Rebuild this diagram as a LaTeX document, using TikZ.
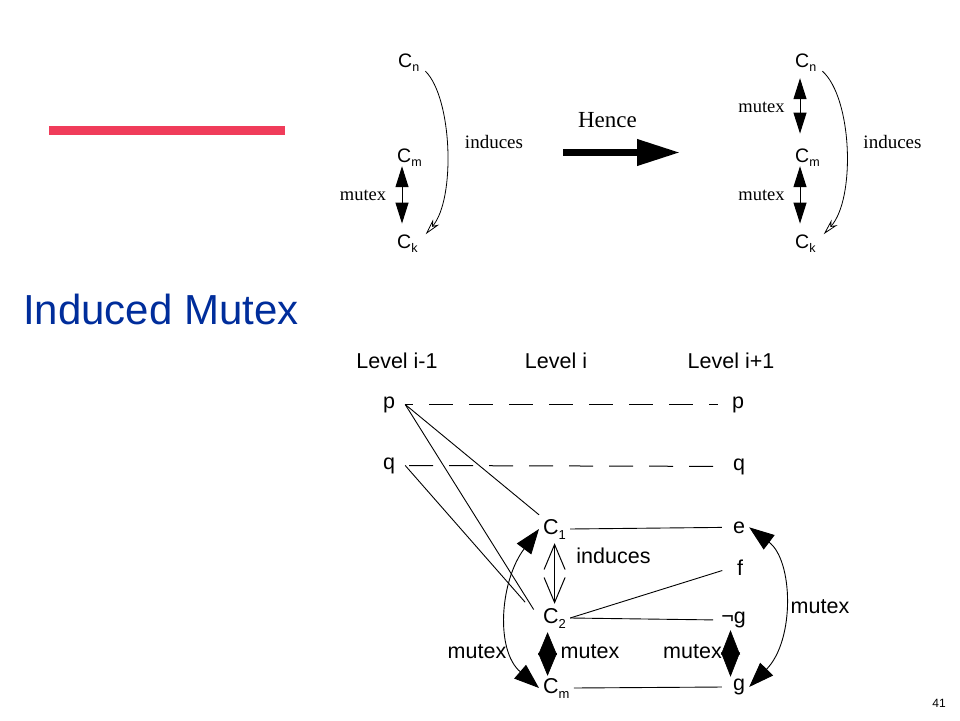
\documentclass[tikz,border=0pt]{standalone}
\usepackage{fontspec}
\setmainfont{Liberation Serif}
\setsansfont{Liberation Sans}
\usepackage{tikz}
\usetikzlibrary{arrows.meta,calc}
\definecolor{titleblue}{RGB}{0,45,155}
\definecolor{barred}{RGB}{240,60,90}
\newcommand{\tsub}[1]{\raisebox{-4pt}{\fontsize{12.5}{12.5}\selectfont #1}}
\newcommand{\bsub}[1]{\raisebox{-5pt}{\fontsize{13}{13}\selectfont #1}}

\begin{document}
\begin{tikzpicture}[x=1pt,y=-1pt,
		ctop/.style={font=\sffamily\fontsize{19.5}{19.5}\selectfont,inner sep=0pt,anchor=base west},
		tlabel/.style={font=\rmfamily\fontsize{#1}{#1}\selectfont,inner sep=0pt,anchor=base},
		atom/.style={font=\sffamily\fontsize{21.5}{21.5}\selectfont,inner sep=4pt,anchor=base},
		cnode/.style={atom,anchor=base west},
		link/.style={line width=0.9pt},
		dashline/.style={line width=1pt,dash pattern=on 24pt off 16pt},
		topmutex/.style={line width=1pt,{Triangle[length=21pt,width=13pt]}-{Triangle[length=21pt,width=13pt]}},
		topinduce/.style={line width=0.8pt,-{Stealth[open,length=16pt,width=8pt,inset=5pt]}},
		inducearr/.style={line width=1pt,{Straight Barb[length=25pt,width=21pt]}-{Straight Barb[length=25pt,width=21pt]}},
		diamondarr/.style={line width=0.6pt,line join=miter,{Triangle[length=#1,width=19pt]}-{Triangle[length=#1,width=19pt]}},
		curvemutex/.style={line width=0.9pt,{Triangle[length=25pt,width=18pt]}-{Triangle[length=25pt,width=18pt]}}]
		\useasboundingbox (0,0) rectangle (960,720);
		\fill[barred] (49,126) rectangle (285,135);
		\node(title) at (23,324) [anchor=base west,inner sep=0pt,text=titleblue,font=\sffamily\fontsize{42}{42}\selectfont] {Induced Mutex};
		\node(cnA) at (398,67) [ctop] {C\tsub{n}};
		\node(cmA) at (397,162) [ctop] {C\tsub{m}};
		\node(ckA) at (397,248) [ctop] {C\tsub{k}};
		\node(mxA) at (363,200) [tlabel=18.5] {mutex};
		\node(indA) at (494,148) [tlabel=19] {induces};
		\draw[topmutex,shorten >=10.6pt] ([xshift=5pt]cmA.south west) -- ([xshift=5pt]cmA.south west |- ckA.north);
		\draw[topinduce] ([xshift=6pt]cnA.south east) .. controls +(27,27) and +(30,-35) .. ([xshift=8pt]ckA.north east);
		\node(hence) at (607.5,127) [tlabel=23] {Hence};
		\coordinate (hs) at (563,152.5);
		\coordinate (he) at (680,152.5);
		\draw[line width=7pt,-{Triangle[length=43pt,width=25pt]}] (hs) -- (he);
		\node(cnB) at (795,67) [ctop] {C\tsub{n}};
		\node(cmB) at (795,162) [ctop] {C\tsub{m}};
		\node(ckB) at (795,248) [ctop] {C\tsub{k}};
		\node(mxB) at (761.5,112) [tlabel=18.5] {mutex};
		\node(mxC) at (761.5,200) [tlabel=18.5] {mutex};
		\node(indB) at (892.5,148) [tlabel=19] {induces};
		\draw[topmutex,shorten <=7pt,shorten >=14.6pt] ([xshift=5pt]cnB.south west) -- ([xshift=5pt]cnB.south west |- cmB.north);
		\draw[topmutex,shorten >=10.6pt] ([xshift=5pt]cmB.south west) -- ([xshift=5pt]cmB.south west |- ckB.north);
		\draw[topinduce] ([xshift=6pt]cnB.south east) .. controls +(30,27) and +(32,-35) .. ([xshift=8pt]ckB.north east);
		\node(lvlA) at (397,368) [atom] {Level i-1};
		\node(lvlB) at (556,368) [atom] {Level i};
		\node(lvlC) at (731,368) [atom] {Level i+1};
		\node(pL) at (389,408) [atom,inner xsep=10pt] {p};
		\node(qL) at (389,469) [atom,inner xsep=10pt] {q};
		\node(pR) at (738,408) [atom] {p};
		\node(qR) at (739,470) [atom] {q};
		\node(c1) at (539,534) [cnode] {C\bsub{1}};
		\node(c2) at (539,623) [cnode] {C\bsub{2}};
		\node(cm) at (539,693) [cnode] {C\bsub{m}};
		\node(e) at (739,533) [atom] {e};
		\node(f) at (740,575) [atom] {f};
		\node(ng) at (733.5,623.5) [atom] {¬g};
		\node(g) at (739,690.5) [atom] {g};
		\node(indC) at (613.5,563) [atom] {induces};
		\node(mxD) at (477,658) [atom] {mutex};
		\node(mxE) at (590,658) [atom] {mutex};
		\node(mxF) at (692.5,658) [atom] {mutex};
		\node(mxG) at (820,613) [atom] {mutex};
		\draw[dashline,dash phase=16pt,shorten >=10pt] (pL) -- (pR);
		\draw[dashline,dash phase=36pt,shorten >=6pt] (qL) -- (qR);
		\draw[link] (pL.east) -- (c1.north west);
		\draw[link,shorten >=10pt] (pL.east) -- (c2.west);
		\draw[link,shorten >=21pt] (qL.east) -- (c2.west);
		\draw[link,shorten >=7pt] (c1.east) -- (e.west);
		\draw[link,shorten >=11pt] (c2.east) -- (f.west);
		\draw[link,shorten >=4pt] (c2.east) -- (ng.west);
		\draw[link,shorten >=7pt] (cm.east) -- (g.west);
		\draw[inducearr] (c1.south) -- (c2.north);
		\draw[diamondarr=23pt,shorten >=-2pt] ([xshift=-7pt]c2.south) -- ([xshift=-7pt]c2.south |- cm.north);
		\draw[diamondarr=24.5pt,shorten <=-2pt,shorten >=-2pt] ([xshift=-3pt]ng.south) -- ([xshift=-3pt]ng.south |- g.north);
		\draw[curvemutex] (c1.west) .. controls +(-39,52) and +(-44,-38) .. (cm.west);
		\draw[curvemutex] (e.east) .. controls +(44,33) and +(46,-47) .. (g.east);
		\node(page) at (939,707) [anchor=base,inner sep=0pt,font=\sffamily\fontsize{12}{12}\selectfont] {41};
	\end{tikzpicture}
\end{document}
